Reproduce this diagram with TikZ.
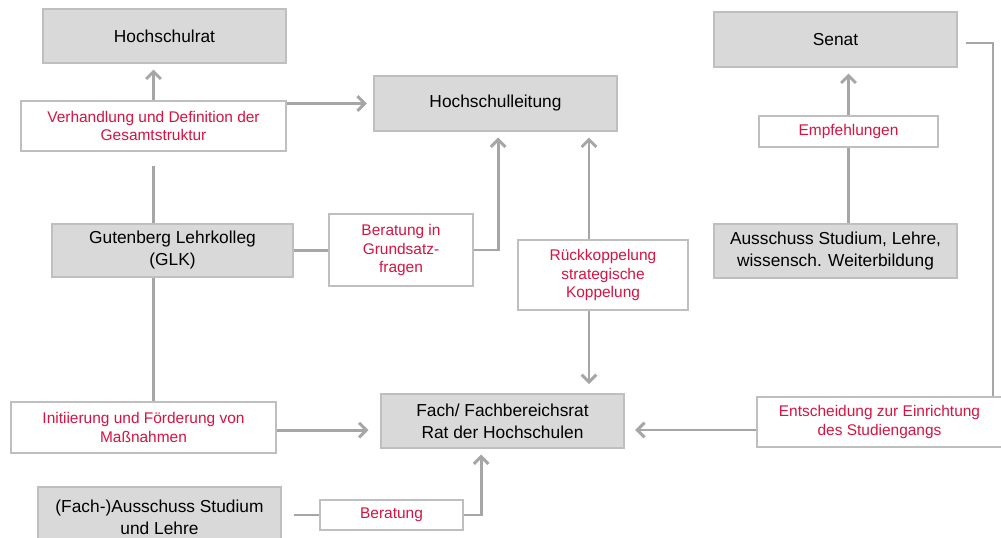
\documentclass[tikz,border=0pt]{standalone}
\usepackage{fontspec}
\setmainfont{Liberation Sans}
\usepackage{tikz}
\usetikzlibrary{arrows.meta}
\definecolor{ddddgg}{rgb}{0.85,0.85,0.85}
\definecolor{bbbbbb}{rgb}{0.75,0.75,0.75}
\definecolor{aaaaaa}{rgb}{0.65,0.65,0.65}
\definecolor{ddqq44}{rgb}{0.84,0.08,0.26}
\tikzstyle{every node}=[font=\fontsize{13}{16.5}\selectfont]
\tikzstyle{gbox}=[draw=bbbbbb,fill=ddddgg,line width=0.8pt,inner sep=0pt,align=center]
\tikzstyle{rbox}=[draw=bbbbbb,fill=white,line width=0.8pt,inner sep=0pt,align=center,text=ddqq44,font=\fontsize{11.6}{13.75}\selectfont]
\tikzstyle{conn}=[line width=2.2pt,color=aaaaaa]
\tikzstyle{arr}=[conn,->,shorten >=4.5pt]
\begin{document}
\begin{tikzpicture}[line join=miter,>={Straight Barb[length=5.5pt,width=11pt]},x=0.75pt,y=-0.75pt]
                    \useasboundingbox (0,0) rectangle (1001,537);
                    \clip (0,0) rectangle (1001,537);
                    % boxes
                    \node[gbox,minimum width=182.25pt,minimum height=40.5pt] (rat) at (164.5,36) {Hochschulrat};
                    \node[rbox,minimum width=198.75pt,minimum height=37.5pt] (verh) at (153.5,126) {Verhandlung und Definition der\\Gesamtstruktur};
                    \node[gbox,minimum width=182.25pt,minimum height=41.25pt] (leitung) at (495.5,103.5) {Hochschulleitung};
                    \node[gbox,minimum width=180.75pt,minimum height=39.75pt] (glk) at (172.5,250.5) {Gutenberg Lehrkolleg\\(GLK)};
                    \node[rbox,minimum width=108pt,minimum height=54pt] (grund) at (401,250) {Beratung in\\Grundsatz-\\fragen};
                    \node[rbox,minimum width=127.5pt,minimum height=52.5pt] (rueck) at (603,275) {Rückkoppelung\\strategische\\Koppelung};
                    \node[gbox,minimum width=182.25pt,minimum height=41.25pt] (senat) at (835.5,39.5) {Senat};
                    \node[rbox,minimum width=134.25pt,minimum height=23.25pt] (empf) at (848.5,131.5) {Empfehlungen};
                    \node[gbox,minimum width=182.25pt,minimum height=40.5pt] (aus) at (835.5,251) {Ausschuss Studium, Lehre,\\wissensch. Weiterbildung};
                    \node[rbox,minimum width=183.75pt,minimum height=37.5pt] (entsch) at (879.5,422) {Entscheidung zur Einrichtung\\des Studiengangs};
                    \node[gbox,minimum width=182.25pt,minimum height=40.5pt] (fach) at (502.5,421) {Fach/ Fachbereichsrat\\Rat der Hochschulen};
                    \node[rbox,minimum width=198.75pt,minimum height=38.25pt] (init) at (143.5,427.5) {Initiierung und Förderung von\\Maßnahmen};
                    \node[gbox,minimum width=182.25pt,minimum height=45pt] (fa) at (159.5,517) {(Fach-)Ausschuss Studium\\und Lehre};
                    \node[rbox,minimum width=107.25pt,minimum height=22.5pt] (ber) at (391.5,515) {Beratung};
                    \coordinate (bend) at (993,43);
                    % connectors
                    \draw [arr] (verh.north) -- (verh.north |- rat.south);
                    \draw [arr,shorten >=5pt] (leitung.west -| verh.east) -- (leitung.west);
                    \draw [conn,shorten >=11pt] (verh.south |- glk.north) -- (verh.south);
                    \draw [conn] (verh.south |- glk.south) -- (verh.south |- init.north);
                    \draw [conn] (glk.east) -- (glk.east -| grund.west);
                    \draw [arr] (grund.east) -| ([xshift=2pt]leitung.south);
                    \draw [arr] ([xshift=-10.5pt]rueck.north) -- ([xshift=-10.5pt]rueck.north |- leitung.south);
                    \draw [arr,shorten >=7pt] ([xshift=-10.5pt]rueck.south) -- ([xshift=-10.5pt]rueck.south |- fach.north);
                    \draw [conn] (empf.south |- aus.north) -- (empf.south);
                    \draw [arr] (empf.north) -- (empf.north |- senat.south);
                    \draw [conn] ([xshift=6pt]senat.east |- bend) -- (bend) -- (bend |- entsch.north);
                    \draw [arr,shorten >=8pt] ([yshift=-6pt]entsch.west) -- ([yshift=-6pt]entsch.west -| fach.east);
                    \draw [arr,shorten >=9pt] ([yshift=-2pt]init.east) -- ([yshift=-2pt]init.east -| fach.west);
                    \draw [conn] ([xshift=9pt]fa.east |- ber.west) -- (ber.west);
                    \draw [arr] (ber.east) -| ([xshift=-16pt]fach.south);
                    \end{tikzpicture}
\end{document}
